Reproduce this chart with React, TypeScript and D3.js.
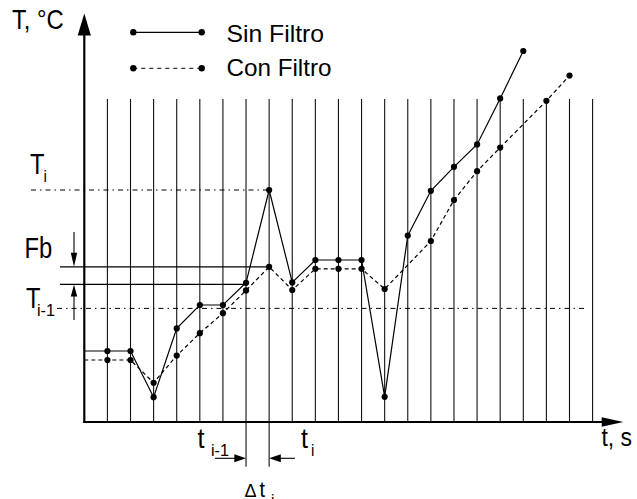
import React from "react";
import * as d3 from "d3";

const W = 637;
const H = 499;

// time steps (grid columns) and temperatures (arbitrary units 0..100)
const gridTimes = [1, 2, 3, 4, 5, 6, 7, 8, 9, 10, 11, 12, 13, 14, 15, 16, 17, 18, 19, 20, 21, 22];
const sinTimes = [0, 1, 2, 3, 4, 5, 6, 7, 8, 9, 10, 11, 12, 13, 14, 15, 16, 17, 18, 19];
const sinTemps = [17.75, 17.75, 17.75, 6.2, 23.4, 29.25, 29.25, 34.8, 58, 34.9, 40.5, 40.5, 40.5, 6.3, 46.6, 57.8, 63.8, 69.4, 80.9, 92.75];
const conTimes = [0, 1, 2, 3, 4, 5, 6, 7, 8, 9, 10, 11, 12, 13, 15, 16, 17, 18, 20, 21];
const conTemps = [15.5, 15.5, 15.5, 9.8, 16.6, 22.2, 27.2, 32.9, 38.8, 33, 38.3, 38.3, 38.3, 33.25, 45.25, 55.5, 62.7, 68.6, 80.3, 86.6];

// annotation levels
const tiValue = 58;
const tiPrevValue = 28.4;
const fbUpper = 38.8;
const fbLower = 34.4;
const tiPrevIndex = 7;
const tiIndex = 8;

const legendLabels = ["Sin Filtro", "Con Filtro"];

const FONT = "'Liberation Sans', Arial, Helvetica, sans-serif";

function Label({ x, y, size, sx = 1, children }: any) {
  return (
    <text
      transform={`translate(${x},${y}) scale(${sx},1)`}
      fontSize={size}
      fontFamily={FONT}
      fill="#000"
    >
      {children}
    </text>
  );
}

export default function App() {
  const x = d3.scaleLinear().domain([0, 22]).range([84.3, 592.6]);
  const y = d3.scaleLinear().domain([0, 100]).range([422, 22]);

  const line = d3
    .line<[number, number]>()
    .x((d) => x(d[0]))
    .y((d) => y(d[1]));

  const sinPts: [number, number][] = sinTimes.map((t, i) => [t, sinTemps[i]]);
  const conPts: [number, number][] = conTimes.map((t, i) => [t, conTemps[i]]);

  const axisY = y(0);
  const gridTop = 99;
  const dashDot = "5,4,1.5,4";

  const arrowRight = (tipX: number, tipY: number, len: number, hw: number) =>
    `M${tipX},${tipY}L${tipX - len},${tipY - hw}L${tipX - len},${tipY + hw}Z`;
  const arrowLeft = (tipX: number, tipY: number, len: number, hw: number) =>
    `M${tipX},${tipY}L${tipX + len},${tipY - hw}L${tipX + len},${tipY + hw}Z`;
  const arrowDown = (tipX: number, tipY: number, len: number, hw: number) =>
    `M${tipX},${tipY}L${tipX - hw},${tipY - len}L${tipX + hw},${tipY - len}Z`;
  const arrowUp = (tipX: number, tipY: number, len: number, hw: number) =>
    `M${tipX},${tipY}L${tipX - hw},${tipY + len}L${tipX + hw},${tipY + len}Z`;

  return (
    <svg
      width={W}
      height={H}
      viewBox={`0 0 ${W} ${H}`}
      style={{ position: "fixed", left: 0, top: 0, background: "#fff" }}
    >
      <rect x={0} y={0} width={W} height={H} fill="#fff" />

      {/* vertical grid lines */}
      {gridTimes.map((t) => (
        <line
          key={t}
          x1={x(t)}
          x2={x(t)}
          y1={gridTop}
          y2={t === tiPrevIndex || t === tiIndex ? 466.7 : axisY}
          stroke="#111"
          strokeWidth={1.1}
        />
      ))}

      {/* reference dash-dot lines */}
      <line x1={31} x2={x(tiIndex)} y1={y(tiValue)} y2={y(tiValue)} stroke="#000" strokeWidth={1} strokeDasharray={dashDot} />
      <line x1={57} x2={588} y1={y(tiPrevValue)} y2={y(tiPrevValue)} stroke="#000" strokeWidth={1} strokeDasharray={dashDot} />

      {/* Fb band lines */}
      <line x1={60} x2={x(tiIndex)} y1={y(fbUpper)} y2={y(fbUpper)} stroke="#000" strokeWidth={1.2} />
      <line x1={60} x2={x(tiPrevIndex)} y1={y(fbLower)} y2={y(fbLower)} stroke="#000" strokeWidth={1.2} />

      {/* Fb arrows */}
      <line x1={74} x2={74} y1={232} y2={y(fbUpper) - 10} stroke="#000" strokeWidth={1.1} />
      <path d={arrowDown(74, y(fbUpper), 14, 3.2)} fill="#000" />
      <line x1={74} x2={74} y1={y(fbLower) + 10} y2={320} stroke="#000" strokeWidth={1.1} />
      <path d={arrowUp(74, y(fbLower), 12, 3.2)} fill="#000" />

      {/* axes */}
      <line x1={x(0)} x2={x(0)} y1={30} y2={axisY + 1} stroke="#000" strokeWidth={2.2} />
      <path d={arrowUp(x(0), 13.5, 22, 6.6)} fill="#000" />
      <line x1={x(0) - 1} x2={605} y1={axisY} y2={axisY} stroke="#000" strokeWidth={2.2} />
      <path d={arrowRight(623.3, axisY, 21.6, 4.7)} fill="#000" />

      {/* Δt arrows */}
      <line x1={215} x2={x(tiPrevIndex) - 8} y1={458.3} y2={458.3} stroke="#000" strokeWidth={1.1} />
      <path d={arrowRight(x(tiPrevIndex), 458.3, 11.7, 4)} fill="#000" />
      <line x1={295} x2={x(tiIndex) + 8} y1={458.3} y2={458.3} stroke="#000" strokeWidth={1.1} />
      <path d={arrowLeft(x(tiIndex), 458.3, 11.7, 4)} fill="#000" />

      {/* data lines */}
      <path d={line(conPts) || ""} fill="none" stroke="#000" strokeWidth={1.2} strokeDasharray="4,3" />
      <path d={line(sinPts) || ""} fill="none" stroke="#000" strokeWidth={1.2} />
      {sinPts.slice(1).map((d, i) => (
        <circle key={"s" + i} cx={x(d[0])} cy={y(d[1])} r={3.1} fill="#000" />
      ))}
      {conPts.slice(1).map((d, i) => (
        <circle key={"c" + i} cx={x(d[0])} cy={y(d[1])} r={3.1} fill="#000" />
      ))}

      {/* legend */}
      <line x1={133.3} x2={201.7} y1={32.3} y2={32.3} stroke="#000" strokeWidth={1.2} />
      <circle cx={133.3} cy={32.3} r={3.2} fill="#000" />
      <circle cx={201.7} cy={32.3} r={3.2} fill="#000" />
      <line x1={133.3} x2={201.7} y1={68.3} y2={68.3} stroke="#000" strokeWidth={1} strokeDasharray="4,4" />
      <circle cx={133.3} cy={68.3} r={3.2} fill="#000" />
      <circle cx={201.7} cy={68.3} r={3.2} fill="#000" />
      <Label x={226.5} y={41.7} size={24} sx={1.03}>{legendLabels[0]}</Label>
      <Label x={226.5} y={75.7} size={24} sx={1.01}>{legendLabels[1]}</Label>

      {/* axis labels */}
      <Label x={12} y={29.3} size={27} sx={0.88}>T, °C</Label>
      <Label x={601.5} y={446} size={26} sx={0.88}>t, s</Label>

      {/* left annotations */}
      <Label x={30} y={174} size={29} sx={0.82}>T</Label>
      <Label x={43.5} y={182.3} size={17} sx={0.9}>i</Label>
      <Label x={24.5} y={258.3} size={29} sx={0.82}>Fb</Label>
      <Label x={26} y={308.3} size={29} sx={0.82}>T</Label>
      <Label x={37} y={315.7} size={17} sx={0.95}>i-1</Label>

      {/* bottom annotations */}
      <Label x={197.5} y={448.3} size={28} sx={0.9}>t</Label>
      <Label x={211} y={455.7} size={17} sx={0.95}>i-1</Label>
      <Label x={301} y={448.3} size={28} sx={0.9}>t</Label>
      <Label x={311} y={455.7} size={17} sx={0.9}>i</Label>
      <Label x={244.5} y={497} size={19} sx={0.95}>Δ</Label>
      <Label x={259.5} y={497} size={22} sx={0.9}>t</Label>
      <Label x={271} y={506} size={17} sx={0.9}>i</Label>
    </svg>
  );
}
